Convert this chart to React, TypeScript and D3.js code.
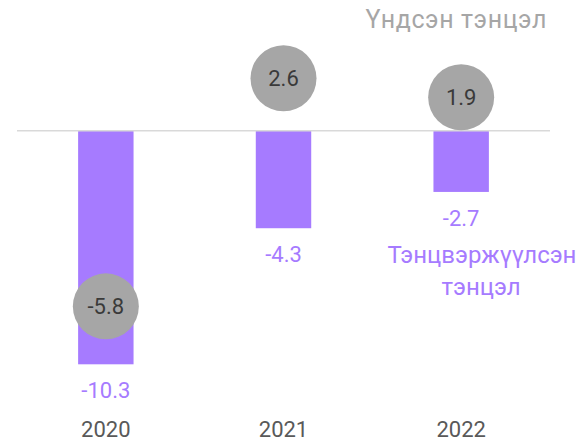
import React from "react";
import * as d3 from "d3";

const years = ["2020", "2021", "2022"];
const balanced = [-10.3, -4.3, -2.7];
const primary = [-5.8, 2.6, 1.9];
const primaryLabel = "Үндсэн тэнцэл";
const balancedLabel = ["Тэнцвэржүүлсэн", "тэнцэл"];

const W = 580;
const H = 443;
const PURPLE = "#a67bff";
const GRAY = "#a6a6a6";
const FONT = "Roboto, 'Noto Sans', sans-serif";

export default function App() {
  const x = d3.scaleBand<string>().domain(years).range([17, 550]).padding(0);
  const step = x.step();
  const barW = step * 0.312;
  const y = d3.scaleLinear().domain([-10.3, 0]).range([364.3, 130.7]);
  const y2 = d3.scaleLinear().domain([-6, 3]).range([311.8, 67.5]);
  const cx = (yr: string) => (x(yr) as number) + step / 2;

  return (
    <div style={{ position: "fixed", left: 0, top: 0 }}>
      <svg width={W} height={H} style={{ display: "block", fontFamily: FONT }}>
        <rect width={W} height={H} fill="#ffffff" />
        {years.map((yr, i) => (
          <rect
            key={"b" + yr}
            x={cx(yr) - barW / 2}
            y={y(0)}
            width={barW}
            height={y(balanced[i]) - y(0)}
            fill={PURPLE}
          />
        ))}
        <line x1={17} x2={550} y1={y(0)} y2={y(0)} stroke="#d9d9d9" strokeWidth={1.5} />
        {years.map((yr, i) => (
          <text
            key={"bl" + yr}
            x={cx(yr)}
            y={y(balanced[i]) + 34}
            textAnchor="middle"
            fontSize={22}
            fill={PURPLE}
          >
            {balanced[i].toFixed(1)}
          </text>
        ))}
        {years.map((yr, i) => (
          <g key={"c" + yr}>
            <circle cx={cx(yr)} cy={y2(primary[i])} r={33} fill={GRAY} />
            <text
              x={cx(yr)}
              y={y2(primary[i])}
              dy="0.36em"
              textAnchor="middle"
              fontSize={22}
              fill="#3a3a3a"
            >
              {primary[i].toFixed(1)}
            </text>
          </g>
        ))}
        {years.map((yr) => (
          <text
            key={"y" + yr}
            x={cx(yr)}
            y={437}
            textAnchor="middle"
            fontSize={22}
            fill="#595959"
          >
            {yr}
          </text>
        ))}
        <text x={547} y={28} textAnchor="end" fontSize={25} letterSpacing={0.6} fill="#a6a6a6">
          {primaryLabel}
        </text>
        <text x={482} y={263} textAnchor="middle" fontSize={24} fill={PURPLE}>
          {balancedLabel[0]}
        </text>
        <text x={481} y={295} textAnchor="middle" fontSize={24} fill={PURPLE}>
          {balancedLabel[1]}
        </text>
      </svg>
    </div>
  );
}
